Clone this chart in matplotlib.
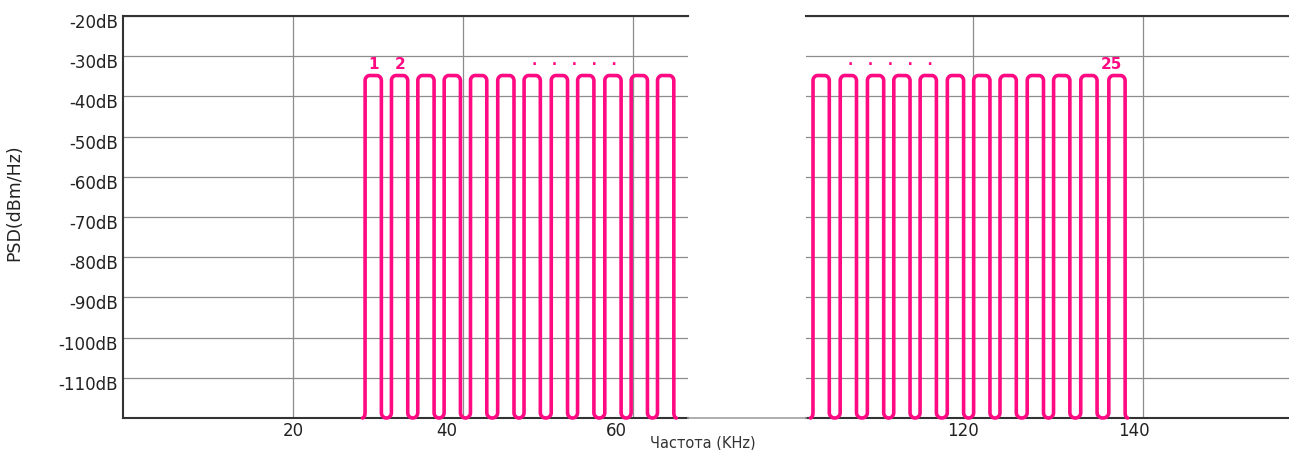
import matplotlib
matplotlib.use("Agg")
import matplotlib.pyplot as plt
import numpy as np
from matplotlib.transforms import ScaledTranslation
from matplotlib.lines import Line2D

# ---------------- data ----------------
left_centers = [29.4, 32.5, 35.6, 38.7, 41.8, 45.0, 48.1, 51.3, 54.4, 57.6, 60.7, 63.8]
right_centers = [102.1, 105.3, 108.5, 111.6, 114.7, 117.9, 121.0, 124.1, 127.3, 130.4, 133.6, 136.9]
level_db = -34.8
floor_db = -120.0

y_ticks = [-20, -30, -40, -50, -60, -70, -80, -90, -100, -110]
y_tick_labels = ["-20dB", "-30dB", "-40dB", "-50dB", "-60dB", "-70dB",
                 "-80dB", "-90dB", "-100dB", "-110dB"]
left_xticks = [20, 40, 60]
left_xtick_labels = ["20", "40", "60"]
right_xticks = [120, 140]
right_xtick_labels = ["120", "140"]

left_annots = [("1", 29.4), ("2", 32.6)]
left_dots_x = 53.1
right_dots_x = 110.2
right_annots = [("25", 136.3)]

# ---------------- layout ----------------
W, H = 1289, 450
fig = plt.figure(figsize=(W / 100, H / 100), dpi=100)
plt.rcParams["font.family"] = ["DejaVu Sans"]

PINK = "#ff0a82"
GRID = "#8c8c8c"
DARK = "#333333"

ax1 = fig.add_axes([123.3 / W, 32 / H, (688 - 123.3) / W, 402 / H])
ax2 = fig.add_axes([806 / W, 32 / H, (W - 806) / W, 402 / H])
ax1.set_xlim(0, 66.43)
ax2.set_xlim(100.32, 157.14)

half_w = 0.96     # half width of a channel (kHz)
rx_top, ry_top = 0.55, 1.3
rf = 0.3


def arc(cx, cy, rx, ry, a0, a1, n=10):
    t = np.radians(np.linspace(a0, a1, n))
    return list(cx + rx * np.cos(t)), list(cy + ry * np.sin(t))


def comb(centers, top, bottom):
    xs, ys = [], []
    ryb = 1.3
    for i, c in enumerate(centers):
        L, R = c - half_w, c + half_w
        if i == 0:
            ax_, ay_ = arc(L - rf, bottom + ryb, rf, ryb, 270, 360)
            xs += ax_; ys += ay_
        ax_, ay_ = arc(L + rx_top, top - ry_top, rx_top, ry_top, 180, 90)
        xs += ax_; ys += ay_
        ax_, ay_ = arc(R - rx_top, top - ry_top, rx_top, ry_top, 90, 0)
        xs += ax_; ys += ay_
        if i < len(centers) - 1:
            nL = centers[i + 1] - half_w
            ax_, ay_ = arc((R + nL) / 2, bottom + ryb, (nL - R) / 2, ryb, 180, 360, 14)
            xs += ax_; ys += ay_
        else:
            ax_, ay_ = arc(R + rf, bottom + ryb, rf, ryb, 180, 270)
            xs += ax_; ys += ay_
    return xs, ys


for ax, centers, xt, xtl, shifts in [
    (ax1, left_centers, left_xticks, left_xtick_labels, [0, -17, -16.5]),
    (ax2, right_centers, right_xticks, right_xtick_labels, [-10, -9.7]),
]:
    ax.set_ylim(floor_db, -20)
    ax.set_yticks(y_ticks)
    ax.set_xticks(xt)
    ax.set_xticklabels(xtl)
    ax.grid(True, color=GRID, lw=0.9)
    ax.set_axisbelow(True)
    ax.tick_params(length=0, labelsize=12, labelcolor="#222222", pad=3)
    for s in ["top", "bottom"]:
        ax.spines[s].set_color(DARK)
        ax.spines[s].set_linewidth(1.5)
    ax.spines["right"].set_visible(False)
    xs, ys = comb(centers, level_db, floor_db)
    ax.plot(xs, ys, color=PINK, lw=2.6, solid_joinstyle="round",
            solid_capstyle="round", clip_on=False, zorder=5)
    for lbl, dx in zip(ax.get_xticklabels(), shifts):
        lbl.set_transform(lbl.get_transform() +
                          ScaledTranslation(dx / 100, 0, fig.dpi_scale_trans))

ax1.spines["left"].set_color(DARK)
ax1.spines["left"].set_linewidth(1.5)
ax2.spines["left"].set_visible(False)
ax1.set_yticklabels(y_tick_labels)
ax1.tick_params(axis="y", pad=4)
ax2.tick_params(labelleft=False)
for lbl in ax1.get_yticklabels():
    lbl.set_transform(lbl.get_transform() +
                      ScaledTranslation(0, -5 / 100, fig.dpi_scale_trans))

# channel annotations
for txt, x in left_annots:
    ax1.text(x, -33.3, txt, color=PINK, fontsize=11, fontweight="bold",
             ha="center", va="baseline")
ax1.text(left_dots_x, -32.3, ".   .   .   .   .", color=PINK, fontsize=10,
         fontweight="bold", ha="center", va="baseline")
ax2.text(right_dots_x, -32.3, ".   .   .   .   .", color=PINK, fontsize=10,
         fontweight="bold", ha="center", va="baseline")
for txt, x in right_annots:
    ax2.text(x, -33.3, txt, color=PINK, fontsize=11, fontweight="bold",
             ha="center", va="baseline")

# axis labels
ax1.set_ylabel("PSD(dBm/Hz)", fontsize=12.5, color="#222222")
ax1.yaxis.set_label_coords((23 - 123.3) / 564.7, (418 - 203) / 402)
fig.text(703 / W, 1 - 443 / H, "Частота (KHz)", fontsize=10.5, color=DARK,
         ha="center", va="center")

# bottom line across the gap
fig.add_artist(Line2D([688 / W, 806 / W], [32 / H, 32 / H], color="#a0a0a0",
                      lw=1.2, transform=fig.transFigure))

fig.savefig("out.png", dpi=100)
